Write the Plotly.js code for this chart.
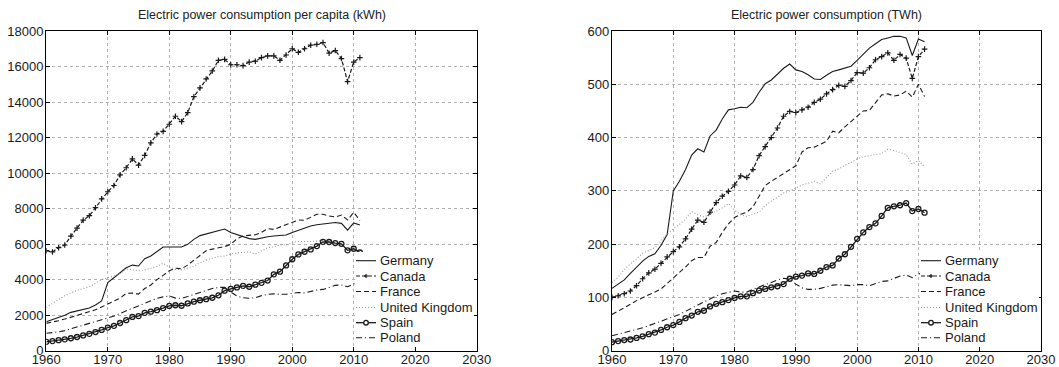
<!DOCTYPE html>
<html>
<head>
<meta charset="utf-8">
<script src="https://cdn.plot.ly/plotly-3.0.1.min.js"></script>
<style>
html,body{margin:0;padding:0;background:#fff;}
#chart{width:1059px;height:367px;}
</style>
</head>
<body>
<div id="chart"></div>
<script>
// ---------- DATA ----------
const years = [1960,1961,1962,1963,1964,1965,1966,1967,1968,1969,
               1970,1971,1972,1973,1974,1975,1976,1977,1978,1979,
               1980,1981,1982,1983,1984,1985,1986,1987,1988,1989,
               1990,1991,1992,1993,1994,1995,1996,1997,1998,1999,
               2000,2001,2002,2003,2004,2005,2006,2007,2008,2009,
               2010,2011];

const seriesNames = ["Germany","Canada","France","United Kingdom","Spain","Poland"];

// Electric power consumption per capita (kWh)
const pcGermany = [1630,1750,1880,2000,2160,2250,2350,2400,2570,2800,
                   3830,4130,4390,4670,4820,4770,5180,5330,5590,5840,
                   5840,5860,5840,5990,6270,6480,6570,6680,6790,6850,
                   6660,6550,6460,6310,6270,6360,6420,6460,6490,6510,
                   6660,6790,6930,7020,7090,7130,7210,7220,7170,6790,
                   7190,7080];
const pcCanada  = [5630,5560,5800,5950,6450,6900,7350,7600,8050,8550,
                   8950,9300,9900,10300,10800,10450,11000,11700,12200,12350,
                   12750,13200,12900,13400,14300,14800,15300,15750,16350,16400,
                   16100,16100,16050,16250,16300,16500,16600,16600,16350,16650,
                   17000,16800,17000,17200,17250,17350,16750,16900,16450,15150,
                   16250,16500];
const pcFrance  = [1540,1600,1690,1780,1890,2000,2100,2200,2300,2460,
                   2630,2780,2960,3230,3250,3190,3500,3700,4000,4240,
                   4500,4640,4620,4820,5100,5370,5630,5720,5780,5860,
                   5990,6300,6460,6490,6530,6660,6870,6830,6960,7110,
                   7230,7360,7340,7510,7680,7680,7580,7530,7640,7360,
                   7790,7340];
const pcUK      = [2440,2650,2900,3100,3250,3400,3500,3600,3800,4000,
                   4110,4200,4350,4600,4550,4500,4550,4650,4750,4920,
                   4700,4580,4550,4650,4750,4950,5100,5200,5300,5330,
                   5450,5500,5520,5570,5440,5600,5800,5850,5950,5950,
                   6100,6150,6130,6150,6170,6200,6150,6050,6000,5650,
                   5750,5450];
const pcSpain   = [500,540,590,640,700,770,860,950,1050,1170,
                   1300,1400,1560,1720,1900,1950,2130,2200,2280,2400,
                   2520,2560,2530,2660,2760,2840,2900,2980,3120,3380,
                   3480,3560,3650,3600,3720,3820,3950,4300,4450,4800,
                   5150,5420,5570,5700,5890,6130,6120,6060,6020,5650,
                   5740,5530];
const pcPoland  = [980,1010,1060,1130,1230,1330,1430,1550,1660,1760,
                   1820,1950,2100,2240,2380,2530,2680,2810,2950,3030,
                   3080,2960,2950,3050,3170,3300,3400,3500,3560,3570,
                   3300,3080,2980,2950,2980,3100,3170,3200,3180,3180,
                   3230,3280,3250,3330,3420,3450,3580,3680,3700,3600,
                   3760,3870];

// Electric power consumption (TWh)
const twGermany = [117,125,133,145,157,168,177,182,198,218,
                   300,318,340,367,379,373,403,414,435,452,
                   454,457,456,466,485,501,508,519,530,538,
                   527,524,518,510,509,517,524,527,531,534,
                   545,556,568,576,584,587,590,590,587,554,
                   585,580];
const twCanada  = [100,103,107,112,122,135,146,153,164,176,
                   186,195,210,228,245,241,260,278,290,299,
                   311,328,325,340,366,383,400,418,440,449,
                   447,452,457,466,472,482,490,498,496,507,
                   522,521,531,546,552,559,545,556,549,511,
                   552,566];
const twFrance  = [68,74,80,87,94,100,105,110,116,126,
                   137,147,157,169,175,175,196,203,222,238,
                   250,256,260,270,290,310,318,325,333,339,
                   347,373,381,382,387,393,412,409,420,430,
                   440,450,451,466,480,482,478,480,487,476,
                   500,477];
const twUK      = [128,138,152,163,172,183,188,193,206,219,
                   229,237,247,261,255,251,256,262,268,276,
                   264,255,252,256,260,272,281,288,296,300,
                   305,311,314,318,313,325,337,341,348,353,
                   360,364,366,368,370,378,376,372,368,350,
                   357,345];
const twSpain   = [16,18,20,21,24,27,31,34,39,44,
                   48,54,61,66,73,75,83,88,91,95,
                   99,102,102,108,113,116,119,121,125,135,
                   139,141,145,144,150,157,160,173,181,195,
                   210,222,232,239,253,268,271,273,277,262,
                   266,259];
const twPoland  = [28,31,33,36,39,43,47,51,55,59,
                   63,68,74,80,86,92,98,103,107,109,
                   112,110,110,115,120,124,128,133,136,134,
                   125,118,115,115,117,120,123,124,123,122,
                   124,124,122,126,130,131,136,140,142,137,
                   144,147];

const leftTitle  = "Electric power consumption per capita (kWh)";
const rightTitle = "Electric power consumption (TWh)";

// ---------- STYLES ----------
const W = 1059, H = 367;
const FONT = "Liberation Sans, Arial, Helvetica, sans-serif";
const ink = "#1a1a1a";
const styles = [
  {line:{color:ink, width:1.1, dash:"solid"}, mode:"lines"},
  {line:{color:ink, width:1.2, dash:"4px,2px"}, mode:"lines+markers",
   marker:{symbol:"cross-thin-open", size:4, line:{color:ink, width:1.2}}},
  {line:{color:ink, width:1.1, dash:"5px,3px"}, mode:"lines"},
  {line:{color:"#9a9a9a", width:1.1, dash:"1px,2px"}, mode:"lines"},
  {line:{color:ink, width:1.3, dash:"solid"}, mode:"lines+markers",
   marker:{symbol:"circle-open", size:5, line:{color:ink, width:1.3}}},
  {line:{color:ink, width:1.1, dash:"6px,3px,1px,3px"}, mode:"lines"}
];

const perCapita = [pcGermany,pcCanada,pcFrance,pcUK,pcSpain,pcPoland];
const total     = [twGermany,twCanada,twFrance,twUK,twSpain,twPoland];

const traces = [];
function addSet(arrs, xa, ya){
  arrs.forEach((vals,i)=>{
    const s = styles[i];
    const t = {x:years, y:vals, name:seriesNames[i], type:"scatter",
               mode:s.mode, line:s.line, xaxis:xa, yaxis:ya,
               showlegend:false, hoverinfo:"skip"};
    if (s.marker) t.marker = s.marker;
    traces.push(t);
  });
}
addSet(perCapita,"x","y");
addSet(total,"x2","y2");

const px = v => v / W;
const py = v => 1 - v / H;

function axisX(domain, anchor){
  return {domain:domain, anchor:anchor, range:[1960,2030], tick0:1960, dtick:10,
    showgrid:true, gridcolor:"#b0b0b0", griddash:"dot", gridwidth:1,
    showline:true, linecolor:"#000", linewidth:1.2, mirror:"ticks",
    ticks:"inside", ticklen:4, tickcolor:"#000", tickwidth:1, zeroline:false,
    ticklabelstandoff:-4,
    tickfont:{family:FONT, size:13, color:ink}, fixedrange:true};
}
function axisY(domain, anchor, max, step){
  return {domain:domain, anchor:anchor, range:[0,max], dtick:step, tickformat:"d",
    showgrid:true, gridcolor:"#b0b0b0", griddash:"dot", gridwidth:1,
    showline:true, linecolor:"#000", linewidth:1.2, mirror:"ticks",
    ticks:"inside", ticklen:4, tickcolor:"#000", tickwidth:1, zeroline:false,
    ticklabelstandoff:-1,
    tickfont:{family:FONT, size:13, color:ink}, fixedrange:true};
}

const yDom = [py(350.7), py(31)];
const xDomL = [px(46.3), px(476.7)];
const xDomR = [px(612), px(1041)];

// ---------- manual legends ----------
const shapes = [], annotations = [];
const rowY = [260.7, 276, 291.5, 307.5, 322.7, 337.7];
function addLegend(boxX0, boxX1, sx0, sx1, tx){
  shapes.push({type:"rect", xref:"paper", yref:"paper", layer:"above",
    x0:px(boxX0), x1:px(boxX1), y0:py(347), y1:py(252),
    fillcolor:"#ffffff", line:{width:0}});
  seriesNames.forEach((nm,i)=>{
    const s = styles[i];
    shapes.push({type:"line", xref:"paper", yref:"paper", layer:"above",
      x0:px(sx0), x1:px(sx1), y0:py(rowY[i]), y1:py(rowY[i]),
      line:{color:s.line.color, width:s.line.width, dash:s.line.dash}});
    const cx = (sx0+sx1)/2;
    if (i===1){ // plus marker
      shapes.push({type:"line", xref:"paper", yref:"paper", layer:"above",
        x0:px(cx-2), x1:px(cx+2), y0:py(rowY[i]), y1:py(rowY[i]), line:{color:ink,width:1.2}});
      shapes.push({type:"line", xref:"paper", yref:"paper", layer:"above",
        x0:px(cx), x1:px(cx), y0:py(rowY[i]-2), y1:py(rowY[i]+2), line:{color:ink,width:1.2}});
    }
    if (i===4){ // circle marker
      shapes.push({type:"circle", xref:"paper", yref:"paper", layer:"above",
        x0:px(cx-2.3), x1:px(cx+2.3), y0:py(rowY[i]+2.3), y1:py(rowY[i]-2.3),
        fillcolor:"#ffffff", line:{color:ink,width:1.3}});
    }
    annotations.push({xref:"paper", yref:"paper", x:px(tx), y:py(rowY[i]),
      xanchor:"left", yanchor:"middle", text:nm, showarrow:false,
      font:{family:FONT, size:13, color:ink}});
  });
}
addLegend(355, 474, 356, 376, 377.5);
addLegend(920, 1039, 921, 941, 942.5);

annotations.push({xref:"paper", yref:"paper", x:px((46.3+476.7)/2), y:py(15),
  xanchor:"center", yanchor:"middle", text:leftTitle, showarrow:false,
  font:{family:FONT, size:12.5, color:"#222"}});
annotations.push({xref:"paper", yref:"paper", x:px((612+1041)/2), y:py(15),
  xanchor:"center", yanchor:"middle", text:rightTitle, showarrow:false,
  font:{family:FONT, size:12.5, color:"#222"}});

const layout = {
  width:W, height:H,
  margin:{l:0, r:0, t:0, b:0},
  paper_bgcolor:"#ffffff", plot_bgcolor:"#ffffff",
  showlegend:false,
  xaxis:axisX(xDomL,"y"),
  yaxis:axisY(yDom,"x",18000,2000),
  xaxis2:axisX(xDomR,"y2"),
  yaxis2:axisY(yDom,"x2",600,100),
  shapes:shapes,
  annotations:annotations,
  font:{family:FONT}
};

Plotly.newPlot("chart", traces, layout, {staticPlot:true, displayModeBar:false});
</script>
</body>
</html>
